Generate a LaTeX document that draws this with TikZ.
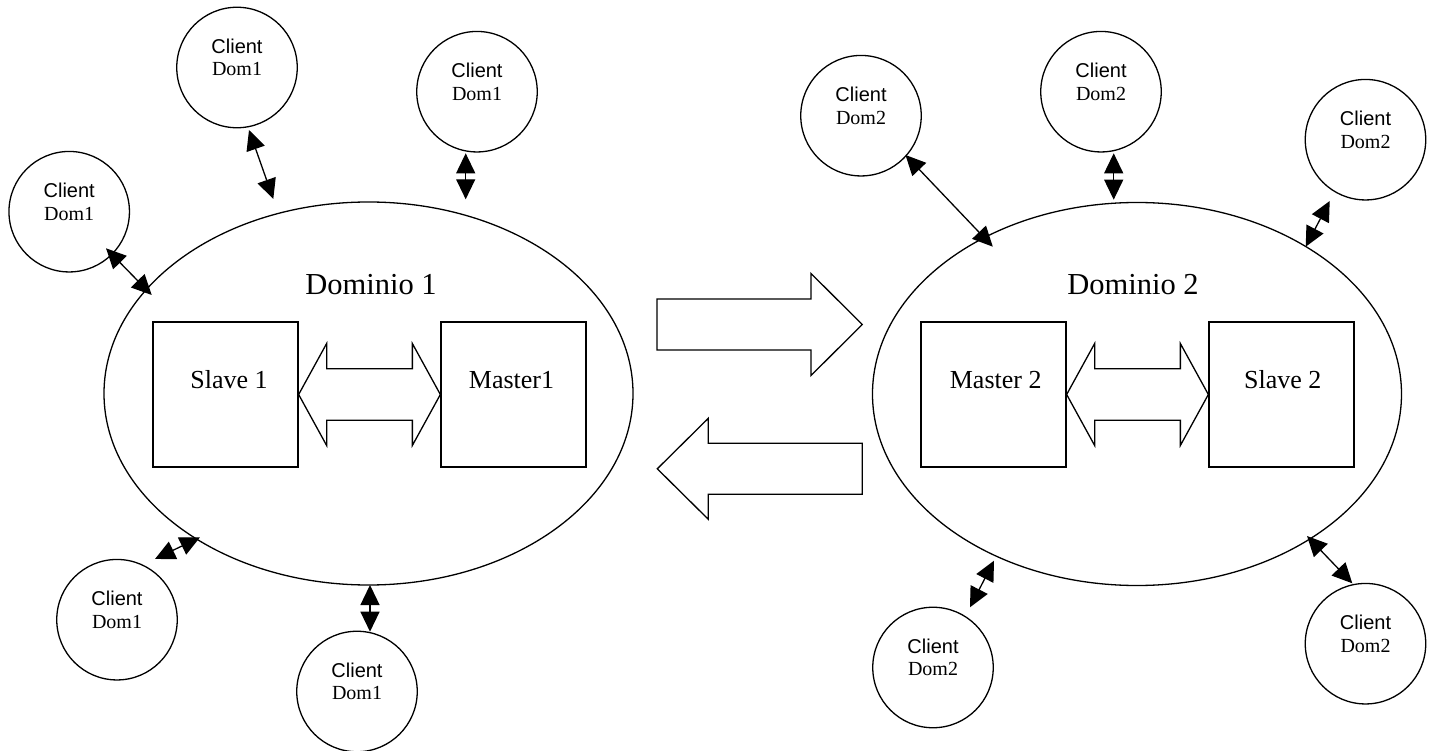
\documentclass[tikz,border=0pt]{standalone}
\usepackage{fontspec}
\setmainfont{Liberation Serif}
\newfontfamily\sansclient{Liberation Sans}
\usetikzlibrary{shapes.geometric,arrows.meta,calc}

\tikzset{
  strokeline/.style={draw=black, line width=1.3pt},
  domainoval/.style={strokeline, ellipse, minimum width=529pt, minimum height=383pt, inner sep=0pt},
  serverbox/.style={strokeline, rectangle, minimum size=145pt, inner sep=0pt},
  clientcircle/.style={strokeline, circle, minimum size=120.5pt, inner sep=0pt},
  clienttext/.style={inner sep=0pt, anchor=base, font=\sansclient\fontsize{20}{24}\selectfont},
  domtext/.style={inner sep=0pt, anchor=base, font=\fontsize{20}{24}\selectfont},
  servertext/.style={inner sep=0pt, anchor=base, font=\fontsize{26}{31}\selectfont},
  domaintext/.style={inner sep=0pt, anchor=base, font=\fontsize{30.5}{36}\selectfont},
  clientlink/.style={line width=1.3pt, {Triangle[length=20pt,width=19pt]}-{Triangle[length=20pt,width=19pt]}},
  blockarrow/.style={strokeline, fill=white, line join=miter},
}

% client circle with its two-line caption: name, centre, domain tag
\newcommand\clientat[3]{%
  \node[clientcircle] (#1) at (#2) {};
  \node[clienttext] (#1-a) at ($(#1.center)+(0,-14.3)$) {Client};
  \node[domtext] (#1-b) at ($(#1.center)+(0,8.4)$) {#3};
}

\begin{document}
\begin{tikzpicture}[x=1pt, y=-1pt]
\useasboundingbox (0,0) rectangle (1433,751);

% the two domains
\node[domainoval] (dom1) at (368.5,393.5) {};
\node[domainoval] (dom2) at (1137,394) {};
\node[domaintext] (dom1-label) at ($(dom1.center)+(2.5,-98.5)$) {Dominio 1};
\node[domaintext] (dom2-label) at ($(dom2.center)+(-4,-99)$) {Dominio 2};

% servers inside each domain
\node[serverbox] (s1) at (225.5,394.5) {};
\node[serverbox] (m1) at (513.5,394.5) {};
\node[serverbox] (m2) at (993.5,394.5) {};
\node[serverbox] (s2) at (1281.5,394.5) {};
\node[servertext] (s1-label) at ($(s1.center)+(3.5,-6.2)$) {Slave 1};
\node[servertext] (m1-label) at ($(m1.center)+(-2,-6.2)$) {Master1};
\node[servertext] (m2-label) at ($(m2.center)+(2.2,-6.2)$) {Master 2};
\node[servertext] (s2-label) at ($(s2.center)+(1.2,-6.2)$) {Slave 2};

% replication block arrows between slave and master
\draw[blockarrow] (s1.east) -- ++(28,-51) -- ++(0,25.2) -- ($(m1.west)+(-28,-25.8)$)
  -- ++(0,-25.2) -- (m1.west) -- ++(-28,51) -- ++(0,-25.2)
  -- ($(s1.east)+(28,25.8)$) -- ++(0,25.2) -- cycle;
\draw[blockarrow] (m2.east) -- ++(28,-51) -- ++(0,25.2) -- ($(s2.west)+(-28,-25.8)$)
  -- ++(0,-25.2) -- (s2.west) -- ++(-28,51) -- ++(0,-25.2)
  -- ($(m2.east)+(28,25.8)$) -- ++(0,25.2) -- cycle;

% block arrows between the domains
\draw[blockarrow] (657,299) -- (811,299) -- (811,273.5) -- (862.3,324.5)
  -- (811,375.5) -- (811,350) -- (657,350) -- cycle;
\draw[blockarrow] (862.3,443.3) -- (708.3,443.3) -- (708.3,418.3) -- (657.3,468.8)
  -- (708.3,519.3) -- (708.3,494.3) -- (862.3,494.3) -- cycle;

% clients of domain 1
\clientat{c1}{237,67.5}{Dom1}
\clientat{c2}{69.2,211.7}{Dom1}
\clientat{c3}{477,91.7}{Dom1}
\clientat{c4}{117,619.7}{Dom1}
\clientat{c5}{357,691.5}{Dom1}

% clients of domain 2
\clientat{c6}{1101,91.7}{Dom2}
\clientat{c7}{1365.5,139.7}{Dom2}
\clientat{c8}{861,115.7}{Dom2}
\clientat{c9}{1365.5,643.7}{Dom2}
\clientat{c10}{933,667.5}{Dom2}

% client links
\draw[clientlink] ($(c1.center)+(12,62.5)$) -- ($(dom1.center)+(-95.2,-194.5)$);
\draw[clientlink] ($(c2.center)+(36.8,36.6)$) -- ($(dom1.center)+(-216.8,-98.5)$);
\draw[clientlink] ($(c3.center)+(-11.3,61.6)$) -- ($(dom1.center)+(97.2,-194.2)$);
\draw[clientlink] ($(c4.center)+(38,-60.7)$) -- ($(dom1.center)+(-168.5,143.8)$);
\draw[clientlink] ($(c5.center)+(13,-59.8)$) -- ($(dom1.center)+(1.5,191.5)$);

\draw[clientlink] ($(c6.center)+(12.7,61.6)$) -- ($(dom2.center)+(-23.3,-194.3)$);
\draw[clientlink] ($(c7.center)+(-35.8,61.3)$) -- ($(dom2.center)+(168.7,-147.3)$);
\draw[clientlink] ($(c8.center)+(44.5,39.3)$) -- ($(dom2.center)+(-144.2,-147.3)$);
\draw[clientlink] ($(c9.center)+(-13.2,-60.4)$) -- ($(dom2.center)+(170,142)$);
\draw[clientlink] ($(c10.center)+(37,-60.2)$) -- ($(dom2.center)+(-143,166.7)$);
\end{tikzpicture}
\end{document}
